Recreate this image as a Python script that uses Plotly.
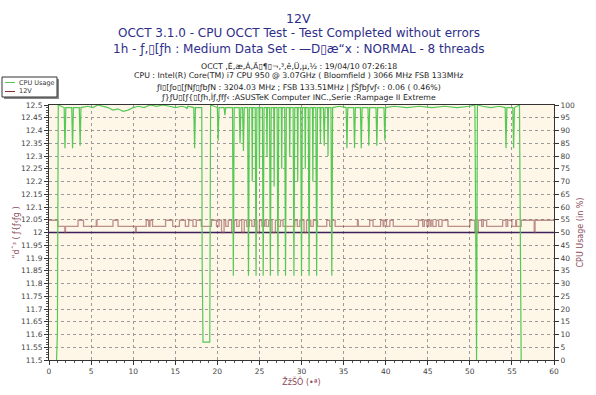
import plotly.graph_objects as go

# ---------------- data ----------------
# CPU usage (%) vs time (minutes)
cpu_time = [
    0.9, 1.0, 1.1,
    1.8, 1.9, 2.0,
    2.7, 2.8, 2.9,
    3.6, 3.7, 3.8,
    4.6, 5.2, 5.8, 6.3, 7.0, 7.6, 8.2, 8.8, 9.4, 10.0, 10.6, 11.3, 12.0, 12.8, 13.5, 14.3, 15.0, 15.8,
    16.3, 16.4, 16.5,
    17.2, 17.3, 17.4,
    18.15, 18.2, 18.3, 19.1, 19.2,
    20.0, 20.1, 20.2,
    20.8, 20.9, 21.0,
    21.8, 21.9, 22.0,
    22.6, 22.7, 22.8,
    23.0, 23.1, 23.2,
    23.6, 23.7, 23.8,
    24.1, 24.15, 24.2,
    24.5, 24.6, 24.7,
    24.95, 25.0, 25.05,
    25.35, 25.45, 25.55,
    25.85, 25.9, 25.95,
    26.2, 26.3, 26.4,
    26.7, 26.75, 26.8,
    27.1, 27.2, 27.3,
    27.6, 27.65, 27.7,
    28.0, 28.1, 28.2,
    28.55, 28.6, 28.65,
    29.0, 29.1, 29.2,
    29.5, 29.55, 29.6,
    29.9, 30.0, 30.1,
    30.4, 30.45, 30.5,
    30.8, 30.9, 31.0,
    31.3, 31.35, 31.4,
    31.7, 31.8, 31.9,
    32.2, 32.25, 32.3,
    32.6, 32.7, 32.8,
    33.1, 33.15, 33.2,
    33.5, 33.6, 33.7,
    34.5,
    35.3, 35.4, 35.5,
    36.2, 36.3, 36.4,
    37.0, 37.1, 37.2,
    37.9, 38.0, 38.1,
    38.85, 38.95, 39.05,
    39.8, 39.9, 40.0,
    41.0, 42.5, 44.0, 45.5, 47.0, 48.5, 50.0,
    50.6, 50.7, 50.8, 50.9,
    51.5, 52.5, 53.5,
    54.2, 54.3, 54.4,
    55.1, 55.2, 55.3,
    55.9, 56.0, 56.1,
]
cpu_pct = [
    0, 11, 100,
    99, 83, 99,
    99, 83, 99,
    99, 84, 99,
    99.5, 99, 100, 99.5, 99, 98, 98.5, 97.5, 98, 99, 99.5, 99, 100, 99.5, 100, 99.5, 99, 99.5,
    99, 98.5, 99.5,
    99, 83, 99,
    99, 38, 7, 7, 100,
    99, 86, 99,
    99, 96, 99,
    99, 33, 99,
    99, 85, 99,
    99, 82, 99,
    99, 33, 99,
    99, 70, 99,
    99, 33, 99,
    99, 75, 99,
    99, 33, 99,
    99, 80, 99,
    99, 33, 99,
    99, 68, 99,
    99, 33, 99,
    99, 75, 99,
    99, 33, 99,
    99, 80, 99,
    99, 33, 99,
    99, 70, 99,
    99, 33, 99,
    99, 75, 99,
    99, 33, 99,
    99, 70, 99,
    99, 33, 99,
    99, 85, 99,
    99, 84, 99,
    99, 80, 99,
    99, 33, 99,
    99.5,
    99, 83, 99,
    99, 83, 99,
    99, 83, 99,
    99, 84, 99,
    99, 84, 99,
    99, 86, 99,
    99.5, 99, 99.5, 99, 99.5, 99, 99.5,
    100, 25, 0, 100,
    99.5, 99, 99.5,
    99, 83, 99,
    99, 83, 99,
    100, 41, 0,
]

# 12V reading (volts) vs time (minutes), step changes
v12_time = [
    0.0, 1.05, 1.88, 1.96, 3.45, 4.1, 5.62, 5.7, 7.6, 8.2,
    10.28, 10.36, 11.55, 11.85, 12.0, 12.3, 13.85, 14.7, 15.5, 16.2,
    16.6, 17.1, 17.5, 18.1, 19.3, 19.9, 20.2, 20.5, 20.8, 21.0,
    21.3, 21.7, 22.0, 22.3, 22.6, 22.9, 23.2, 23.5, 23.8, 24.1,
    24.4, 24.7, 25.0, 25.3, 25.6, 25.8, 26.1, 26.5, 26.9, 27.2,
    27.5, 27.8, 29.2, 29.5, 29.8, 30.3, 30.6, 31.1, 31.4, 31.9,
    33.0, 33.35, 33.6, 34.0, 36.65, 36.75, 38.1, 38.5, 39.4, 39.7,
    39.8, 40.1, 40.5, 40.9, 43.9, 44.4, 44.6, 44.9, 45.1, 45.3,
    45.4, 45.6, 46.0, 46.3, 46.7, 47.4, 50.0, 50.6, 51.0, 51.4,
    51.6, 52.0, 53.9, 54.3, 54.5, 55.0, 55.45, 55.55, 56.1, 57.65,
    57.75, 60.0,
]
v12_volt = [
    12.048, 12.024, 12.0, 12.024, 12.048, 12.024, 12.048, 12.024, 12.048, 12.024,
    12.0, 12.024, 12.048, 12.024, 12.048, 12.024, 12.048, 12.024, 12.048, 12.024,
    12.048, 12.024, 12.048, 12.024, 12.048, 12.024, 12.048, 12.0, 12.048, 12.024,
    12.048, 12.0, 12.048, 12.024, 12.048, 12.0, 12.048, 12.024, 12.048, 12.024,
    12.048, 12.0, 12.048, 12.024, 12.048, 12.024, 12.048, 12.0, 12.048, 12.024,
    12.048, 12.024, 12.048, 12.024, 12.048, 12.0, 12.048, 12.024, 12.048, 12.024,
    12.048, 12.024, 12.048, 12.024, 12.048, 12.024, 12.048, 12.024, 12.048, 12.024,
    12.048, 12.024, 12.048, 12.024, 12.048, 12.024, 12.048, 12.024, 12.048, 12.024,
    12.048, 12.024, 12.048, 12.024, 12.048, 12.024, 12.048, 12.0, 12.048, 12.024,
    12.048, 12.024, 12.048, 12.024, 12.048, 12.024, 12.048, 12.024, 12.048, 12.0,
    12.048, 12.048,
]

# nominal 12 V reference line
ref_time = [0, 60]
ref_volt = [12.0, 12.0]

# axis ticks
x_ticks = [0, 5, 10, 15, 20, 25, 30, 35, 40, 45, 50, 55, 60]
v_tickvals = [11.5, 11.55, 11.6, 11.65, 11.7, 11.75, 11.8, 11.85, 11.9, 11.95, 12.0,
              12.05, 12.1, 12.15, 12.2, 12.25, 12.3, 12.35, 12.4, 12.45, 12.5]
v_ticktext = ["11.5", "11.55", "11.6", "11.65", "11.7", "11.75", "11.8", "11.85", "11.9", "11.95", "12",
              "12.05", "12.1", "12.15", "12.2", "12.25", "12.3", "12.35", "12.4", "12.45", "12.5"]
pct_ticks = [0, 5, 10, 15, 20, 25, 30, 35, 40, 45, 50, 55, 60, 65, 70, 75, 80, 85, 90, 95, 100]

title_lines = [
    "12V",
    "OCCT 3.1.0 - CPU OCCT Test - Test Completed without errors",
    "1h - ƒ‚▯[ƒh : Medium Data Set - —D▯æ“x : NORMAL - 8 threads",
]
info_lines = [
    "OCCT ‚É‚æ‚Á‚Ä▯¶▯¬‚³‚ê‚Ü‚µ‚½ : 19/04/10 07:26:18",
    "CPU : Intel(R) Core(TM) i7 CPU 950 @ 3.07GHz ( Bloomfield ) 3066 MHz FSB 133MHz",
    "ƒI▯[ƒo▯[ƒNƒ▯ƒbƒN : 3204.03 MHz ; FSB 133.51MHz | ƒŠƒbƒvƒ‹ : 0.06 ( 0.46%)",
    "ƒ}ƒU▯[ƒ{▯[ƒh‚Ìƒ‚ƒfƒ‹ :ASUSTeK Computer INC.,Serie :Rampage II Extreme",
]
legend_names = ["CPU Usage", "12V"]

# ---------------- figure ----------------
FONT = "DejaVu Sans"
CPU_COLOR = "#55c855"
V12_COLOR = "rgba(150,80,80,0.62)"
LABEL_COLOR = "#8c4a5a"

fig = go.Figure()
fig.add_trace(go.Scatter(
    x=cpu_time, y=cpu_pct, name=legend_names[0], yaxis="y2", mode="lines",
    line=dict(color=CPU_COLOR, width=1.2), showlegend=False,
))
fig.add_trace(go.Scatter(
    x=ref_time, y=ref_volt, name="ref", mode="lines", showlegend=False,
    line=dict(color="#3c1f5c", width=1.6), hoverinfo="skip",
))
fig.add_trace(go.Scatter(
    x=v12_time, y=v12_volt, name=legend_names[1], mode="lines", line_shape="hv",
    line=dict(color=V12_COLOR, width=1.3), showlegend=False,
))

grid = dict(showgrid=True, gridcolor="#9a9a9a", griddash="3px,3px", gridwidth=1)
tickfont = dict(family=FONT, size=7.5, color="#444444")

fig.update_layout(
    width=596, height=395,
    margin=dict(l=49, r=42, t=105, b=35),
    paper_bgcolor="white", plot_bgcolor="#fef7e7",
    font=dict(family=FONT, size=8, color="#333333"),
    showlegend=False,
    xaxis=dict(range=[0, 60], tickvals=x_ticks, ticks="outside", ticklen=4,
               tickcolor="#333", showline=True, linecolor="#333333", linewidth=1,
               mirror=True, zeroline=False, automargin=False, tickfont=tickfont,
               minor=dict(dtick=1, ticks="outside", ticklen=2, tickcolor="#555", showgrid=False),
               title=dict(text="ŽžŠÔ (•ª)", font=dict(family=FONT, size=8, color=LABEL_COLOR), standoff=0),
               **grid),
    yaxis=dict(range=[11.5, 12.5], tickvals=v_tickvals, ticktext=v_ticktext,
               ticks="outside", ticklen=4, tickcolor="#333", automargin=False, tickfont=tickfont,
               showline=True, linecolor="#333333", linewidth=1, zeroline=False,
               minor=dict(dtick=0.01, ticks="outside", ticklen=2, tickcolor="#555", showgrid=False),
               title=dict(text="“dˆ³ ( ƒ{ƒ‹ƒg )", font=dict(family=FONT, size=8, color=LABEL_COLOR), standoff=0),
               **grid),
    yaxis2=dict(range=[0, 100], tickvals=pct_ticks, overlaying="y", side="right",
                ticks="outside", ticklen=4, tickcolor="#333", showgrid=False, automargin=False,
                tickfont=tickfont,
                showline=True, linecolor="#333333", linewidth=1, zeroline=False,
                title=dict(text="CPU Usage (in %)", font=dict(family=FONT, size=8, color=LABEL_COLOR), standoff=3)),
)

# titles
title_pos = [(1.341, 12.5), (1.282, 12), (1.220, 12)]
for txt, (yy, sz) in zip(title_lines, title_pos):
    fig.add_annotation(text=txt, xref="paper", yref="paper", x=0.495, y=yy,
                       showarrow=False, xanchor="center", yanchor="middle",
                       font=dict(family=FONT, size=sz, color="#2e2e8a"))
info_pos = [1.153, 1.114, 1.072, 1.031]
for txt, yy in zip(info_lines, info_pos):
    fig.add_annotation(text=txt, xref="paper", yref="paper", x=0.495, y=yy,
                       showarrow=False, xanchor="center", yanchor="middle",
                       font=dict(family=FONT, size=7.8, color="#222222"))

# hand-drawn compact legend box (top-left)
def px_x(p):
    return (p - 49) / 505.0

def px_y(p):
    return (360 - p) / 255.0

fig.add_shape(type="rect", xref="paper", yref="paper",
              x0=px_x(4), x1=px_x(59), y0=px_y(99), y1=px_y(79),
              line=dict(width=0), fillcolor="#888888", layer="above")
fig.add_shape(type="rect", xref="paper", yref="paper",
              x0=px_x(2), x1=px_x(57), y0=px_y(97), y1=px_y(77),
              line=dict(color="#333333", width=1), fillcolor="white", layer="above")
for i, (name, col) in enumerate(zip(legend_names, ["#55c855", "#8a3030"])):
    yy = 82.5 + i * 9
    fig.add_shape(type="line", xref="paper", yref="paper",
                  x0=px_x(5), x1=px_x(15), y0=px_y(yy), y1=px_y(yy),
                  line=dict(color=col, width=1), layer="above")
    fig.add_annotation(text=name, xref="paper", yref="paper", x=px_x(17), y=px_y(yy),
                       showarrow=False, xanchor="left", yanchor="middle",
                       font=dict(family=FONT, size=6.5, color="#333333"))

fig.write_html("out.html", config={"displayModeBar": False},
               post_script="document.body.style.margin='0';document.body.style.overflow='hidden';")
